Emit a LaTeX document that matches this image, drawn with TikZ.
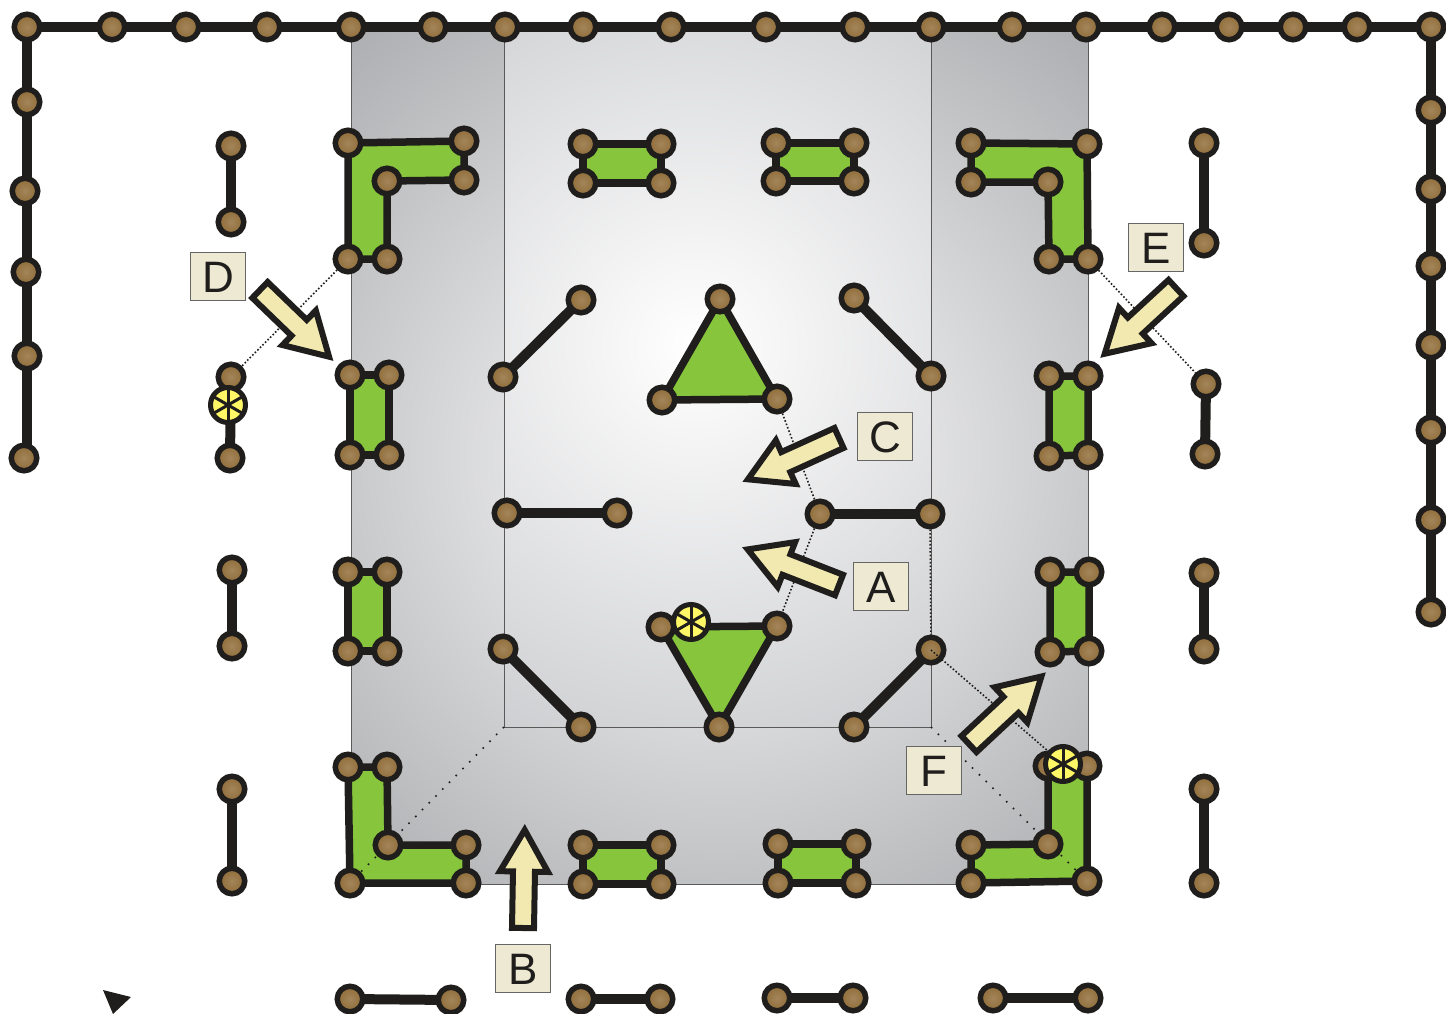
\documentclass[tikz,border=0pt]{standalone}
\usepackage{fontspec}
\setmainfont{Liberation Sans}
\definecolor{ink}{RGB}{31, 30, 28}
\definecolor{leaf}{RGB}{134, 197, 60}
\definecolor{cream}{RGB}{241, 233, 175}
\definecolor{tag}{RGB}{238, 233, 210}
\definecolor{bronze}{RGB}{143, 107, 55}
\definecolor{slate}{RGB}{168, 169, 172}
\definecolor{mist}{RGB}{198, 199, 202}
\usetikzlibrary{arrows.meta, positioning, shapes.arrows, backgrounds}

\begin{document}
\begin{tikzpicture}[
  x=1pt, y=-1pt,
  joint/.style={circle, draw=ink, line width=5.5pt, minimum size=25.5pt, inner sep=0pt,
                inner color=bronze!82!white, outer color=bronze},
  bar/.style={draw=ink, line width=10pt},
  plate/.style={draw=ink, line width=7.5pt, fill=leaf, line join=round},
  pointer/.style={single arrow, draw=ink, fill=cream, line width=6pt, anchor=tail,
                  minimum width=42pt, inner sep=8pt, outer sep=0pt,
                  single arrow tip angle=60, single arrow head extend=13pt},
  tagbox/.style={draw=black!60, fill=tag, line width=0.8pt, minimum width=55pt,
                 minimum height=48pt, inner sep=0pt, text height=33.5pt, text depth=0pt,
                 font=\fontsize{44}{44}\selectfont, text=ink},
  seal/.style={circle, draw=ink, fill=yellow!60!white, line width=5pt, minimum size=35pt,
               inner sep=0pt, path picture={
                 \draw[ink, line width=3pt] (path picture bounding box.north) -- (path picture bounding box.south);
                 \draw[ink, line width=3pt] (path picture bounding box.center) +(30:20pt) -- +(210:20pt);
                 \draw[ink, line width=3pt] (path picture bounding box.center) +(150:20pt) -- +(330:20pt);
               }},
  fineline/.style={draw=ink, line width=1.6pt, dash pattern=on 1.6pt off 2pt},
  looseline/.style={draw=ink, line width=1.6pt, dash pattern=on 1.6pt off 8pt},
]

\useasboundingbox (0,0) rectangle (1446,1014);

% Top rail
\node[joint] (t1) at (27,27) {};
\node[joint] (t2) at (112,27) {};
\node[joint] (t3) at (186,27) {};
\node[joint] (t4) at (267,27) {};
\node[joint] (t5) at (351,27) {};
\node[joint] (t6) at (433,27) {};
\node[joint] (t7) at (505,27) {};
\node[joint] (t8) at (583,27) {};
\node[joint] (t9) at (671,27) {};
\node[joint] (t10) at (766,27) {};
\node[joint] (t11) at (855,27) {};
\node[joint] (t12) at (931,27) {};
\node[joint] (t13) at (1012,27) {};
\node[joint] (t14) at (1086,27) {};
\node[joint] (t15) at (1162,27) {};
\node[joint] (t16) at (1229,27) {};
\node[joint] (t17) at (1293,27) {};
\node[joint] (t18) at (1357,27) {};
\node[joint] (t19) at (1431,27) {};

% Left and right rails
\node[joint] (l1) at (27,102) {};
\node[joint] (l2) at (25,191) {};
\node[joint] (l3) at (26,272) {};
\node[joint] (l4) at (27,356) {};
\node[joint] (l5) at (24,458) {};
\node[joint] (r1) at (1431,110) {};
\node[joint] (r2) at (1431,189) {};
\node[joint] (r3) at (1431,266) {};
\node[joint] (r4) at (1431,345) {};
\node[joint] (r5) at (1431,430) {};
\node[joint] (r6) at (1431,520) {};
\node[joint] (r7) at (1431,612) {};

% Loose bars, left side
\node[joint] (a1) at (231,146) {};
\node[joint] (a2) at (231,222) {};
\node[joint] (a3) at (231,377) {};
\node[joint] (a4) at (230,458) {};
\node[joint] (a5) at (232,570) {};
\node[joint] (a6) at (232,646) {};
\node[joint] (a7) at (232,789) {};
\node[joint] (a8) at (232,881) {};

% Loose bars, right side
\node[joint] (b1) at (1204,143) {};
\node[joint] (b2) at (1204,243) {};
\node[joint] (b3) at (1206,384) {};
\node[joint] (b4) at (1205,454) {};
\node[joint] (b5) at (1204,573) {};
\node[joint] (b6) at (1204,649) {};
\node[joint] (b7) at (1204,789) {};
\node[joint] (b8) at (1204,883) {};

% Loose bars, bottom row
\node[joint] (c1) at (350,999) {};
\node[joint] (c2) at (451,1000) {};
\node[joint] (c3) at (581,999) {};
\node[joint] (c4) at (660,999) {};
\node[joint] (c5) at (777,998) {};
\node[joint] (c6) at (853,998) {};
\node[joint] (c7) at (993,998) {};
\node[joint] (c8) at (1088,998) {};

% Corner plates
\node[joint] (p1) at (348,143) {};
\node[joint] (p2) at (464,141) {};
\node[joint] (p3) at (464,180) {};
\node[joint] (p4) at (387,181) {};
\node[joint] (p5) at (387,259) {};
\node[joint] (p6) at (348,259) {};
\node[joint] (q1) at (971,143) {};
\node[joint] (q2) at (1087,144) {};
\node[joint] (q3) at (1088,259) {};
\node[joint] (q4) at (1049,259) {};
\node[joint] (q5) at (1048,182) {};
\node[joint] (q6) at (971,182) {};
\node[joint] (u1) at (348,767) {};
\node[joint] (u2) at (387,767) {};
\node[joint] (u3) at (388,845) {};
\node[joint] (u4) at (466,845) {};
\node[joint] (u5) at (466,883) {};
\node[joint] (u6) at (350,883) {};
\node[joint] (v1) at (971,845) {};
\node[joint] (v2) at (1048,844) {};
\node[joint] (v3) at (1048,766) {};
\node[joint] (v4) at (1087,766) {};
\node[joint] (v5) at (1087,881) {};
\node[joint] (v6) at (971,883) {};

% Small plates
\node[joint] (d1) at (583,144) {};
\node[joint] (d2) at (661,144) {};
\node[joint] (d3) at (661,183) {};
\node[joint] (d4) at (583,183) {};
\node[joint] (e1) at (776,143) {};
\node[joint] (e2) at (854,143) {};
\node[joint] (e3) at (854,181) {};
\node[joint] (e4) at (776,181) {};
\node[joint] (f1) at (350,375) {};
\node[joint] (f2) at (389,375) {};
\node[joint] (f3) at (389,455) {};
\node[joint] (f4) at (350,455) {};
\node[joint] (g1) at (348,572) {};
\node[joint] (g2) at (387,572) {};
\node[joint] (g3) at (387,651) {};
\node[joint] (g4) at (348,651) {};
\node[joint] (h1) at (1049,376) {};
\node[joint] (h2) at (1088,376) {};
\node[joint] (h3) at (1088,455) {};
\node[joint] (h4) at (1049,456) {};
\node[joint] (i1) at (1050,572) {};
\node[joint] (i2) at (1089,572) {};
\node[joint] (i3) at (1089,651) {};
\node[joint] (i4) at (1050,652) {};
\node[joint] (j1) at (583,845) {};
\node[joint] (j2) at (661,845) {};
\node[joint] (j3) at (661,884) {};
\node[joint] (j4) at (583,884) {};
\node[joint] (k1) at (778,844) {};
\node[joint] (k2) at (856,844) {};
\node[joint] (k3) at (856,883) {};
\node[joint] (k4) at (778,883) {};

% Triangles
\node[joint] (m1) at (720,299) {};
\node[joint] (m2) at (777,399) {};
\node[joint] (m3) at (662,400) {};
\node[joint] (n1) at (661,627) {};
\node[joint] (n2) at (777,626) {};
\node[joint] (n3) at (719,727) {};

% Bars of the centre
\node[joint] (o1) at (581,300) {};
\node[joint] (o2) at (503,377) {};
\node[joint] (o3) at (854,298) {};
\node[joint] (o4) at (931,376) {};
\node[joint] (o5) at (507,513) {};
\node[joint] (o6) at (617,513) {};
\node[joint] (o7) at (820,514) {};
\node[joint] (o8) at (930,514) {};
\node[joint] (o9) at (503,649) {};
\node[joint] (o10) at (581,727) {};
\node[joint] (o11) at (931,650) {};
\node[joint] (o12) at (854,727) {};

\coordinate (inA) at (504,727);
\coordinate (inB) at (931,727);

% Everything under the joints
\begin{scope}[on background layer]
  \begin{scope}
    \clip (351,28) rectangle (1088,884);
    \shade[inner color=white, outer color=slate] (720,456) circle (600pt);
  \end{scope}
  \begin{scope}
    \clip (504,28) rectangle (931,727);
    \shade[inner color=white, outer color=mist] (695,345) circle (500pt);
  \end{scope}
  \draw[black!65, line width=1pt] (351,28) rectangle (1088,884);
  \draw[black!65, line width=1pt] (504,28) rectangle (931,727);

  \draw[bar] (t1.center) -- (t2.center) -- (t3.center) -- (t4.center) -- (t5.center) -- (t6.center)
    -- (t7.center) -- (t8.center) -- (t9.center) -- (t10.center) -- (t11.center) -- (t12.center)
    -- (t13.center) -- (t14.center) -- (t15.center) -- (t16.center) -- (t17.center) -- (t18.center) -- (t19.center);
  \draw[bar] (t1.center) -- (t1.center |- l5.center);
  \draw[bar] (t19.center) -- (r1.center) -- (r2.center) -- (r3.center) -- (r4.center) -- (r5.center) -- (r6.center) -- (r7.center);

  \draw[bar] (a1.center) -- (a2.center);
  \draw[bar] (a3.center) -- (a4.center);
  \draw[bar] (a5.center) -- (a6.center);
  \draw[bar] (a7.center) -- (a8.center);
  \draw[bar] (b1.center) -- (b2.center);
  \draw[bar] (b3.center) -- (b4.center);
  \draw[bar] (b5.center) -- (b6.center);
  \draw[bar] (b7.center) -- (b8.center);
  \draw[bar] (c1.center) -- (c2.center);
  \draw[bar] (c3.center) -- (c4.center);
  \draw[bar] (c5.center) -- (c6.center);
  \draw[bar] (c7.center) -- (c8.center);

  \draw[plate] (p1.center) -- (p2.center) -- (p3.center) -- (p4.center) -- (p5.center) -- (p6.center) -- cycle;
  \draw[plate] (q1.center) -- (q2.center) -- (q3.center) -- (q4.center) -- (q5.center) -- (q6.center) -- cycle;
  \draw[plate] (u1.center) -- (u2.center) -- (u3.center) -- (u4.center) -- (u5.center) -- (u6.center) -- cycle;
  \draw[plate] (v1.center) -- (v2.center) -- (v3.center) -- (v4.center) -- (v5.center) -- (v6.center) -- cycle;
  \draw[plate] (d1.center) -- (d2.center) -- (d3.center) -- (d4.center) -- cycle;
  \draw[plate] (e1.center) -- (e2.center) -- (e3.center) -- (e4.center) -- cycle;
  \draw[plate] (f1.center) -- (f2.center) -- (f3.center) -- (f4.center) -- cycle;
  \draw[plate] (g1.center) -- (g2.center) -- (g3.center) -- (g4.center) -- cycle;
  \draw[plate] (h1.center) -- (h2.center) -- (h3.center) -- (h4.center) -- cycle;
  \draw[plate] (i1.center) -- (i2.center) -- (i3.center) -- (i4.center) -- cycle;
  \draw[plate] (j1.center) -- (j2.center) -- (j3.center) -- (j4.center) -- cycle;
  \draw[plate] (k1.center) -- (k2.center) -- (k3.center) -- (k4.center) -- cycle;
  \draw[plate] (m1.center) -- (m2.center) -- (m3.center) -- cycle;
  \draw[plate] (n1.center) -- (n2.center) -- (n3.center) -- cycle;

  \draw[bar] (o1.center) -- (o2.center);
  \draw[bar] (o3.center) -- (o4.center);
  \draw[bar] (o5.center) -- (o6.center);
  \draw[bar] (o7.center) -- (o8.center);
  \draw[bar] (o9.center) -- (o10.center);
  \draw[bar] (o11.center) -- (o12.center);

  % Dotted guides
  \draw[fineline] (p6) -- (a3);
  \draw[fineline] (q3) -- (b3);
  \draw[fineline] (m2) -- (o7);
  \draw[fineline] (o7) -- (n2);
  \draw[fineline] (o8) -- (o11);
  \draw[looseline] (inA) -- (u6);
  \draw[looseline] (inB) -- (v5);
\end{scope}

% Seals
\draw[fineline] (o11.center) -- (1063,764);
\node[seal] (s1) at (228,405) {};
\node[seal] (s2) at (691,622) {};
\node[seal] (s3) at (1063,764) {};

% Pointers
\node[pointer, rotate=-44, minimum height=96pt] (arrD) at (260,290) {};
\node[pointer, rotate=-137.3, minimum height=97pt] (arrE) at (1176,288) {};
\node[pointer, rotate=204.4, minimum height=100pt] (arrC) at (839,438) {};
\node[pointer, rotate=158.7, minimum height=98pt] (arrA) at (839,585) {};
\node[pointer, rotate=43, minimum height=99pt] (arrF) at (969,744) {};
\node[pointer, rotate=89, minimum height=98pt] (arrB) at (523,928) {};

% Letters
\node[tagbox] (tagD) at (218,276) {D};
\node[tagbox] (tagE) at (1156,247) {E};
\node[tagbox] (tagC) at (885,436) {C};
\node[tagbox] (tagA) at (881,586) {A};
\node[tagbox] (tagF) at (934,770) {F};
\node[tagbox] (tagB) at (523,968) {B};

% Corner mark
\fill[ink] (103,990) -- (131,997) -- (113,1014) -- cycle;

\end{tikzpicture}
\end{document}
